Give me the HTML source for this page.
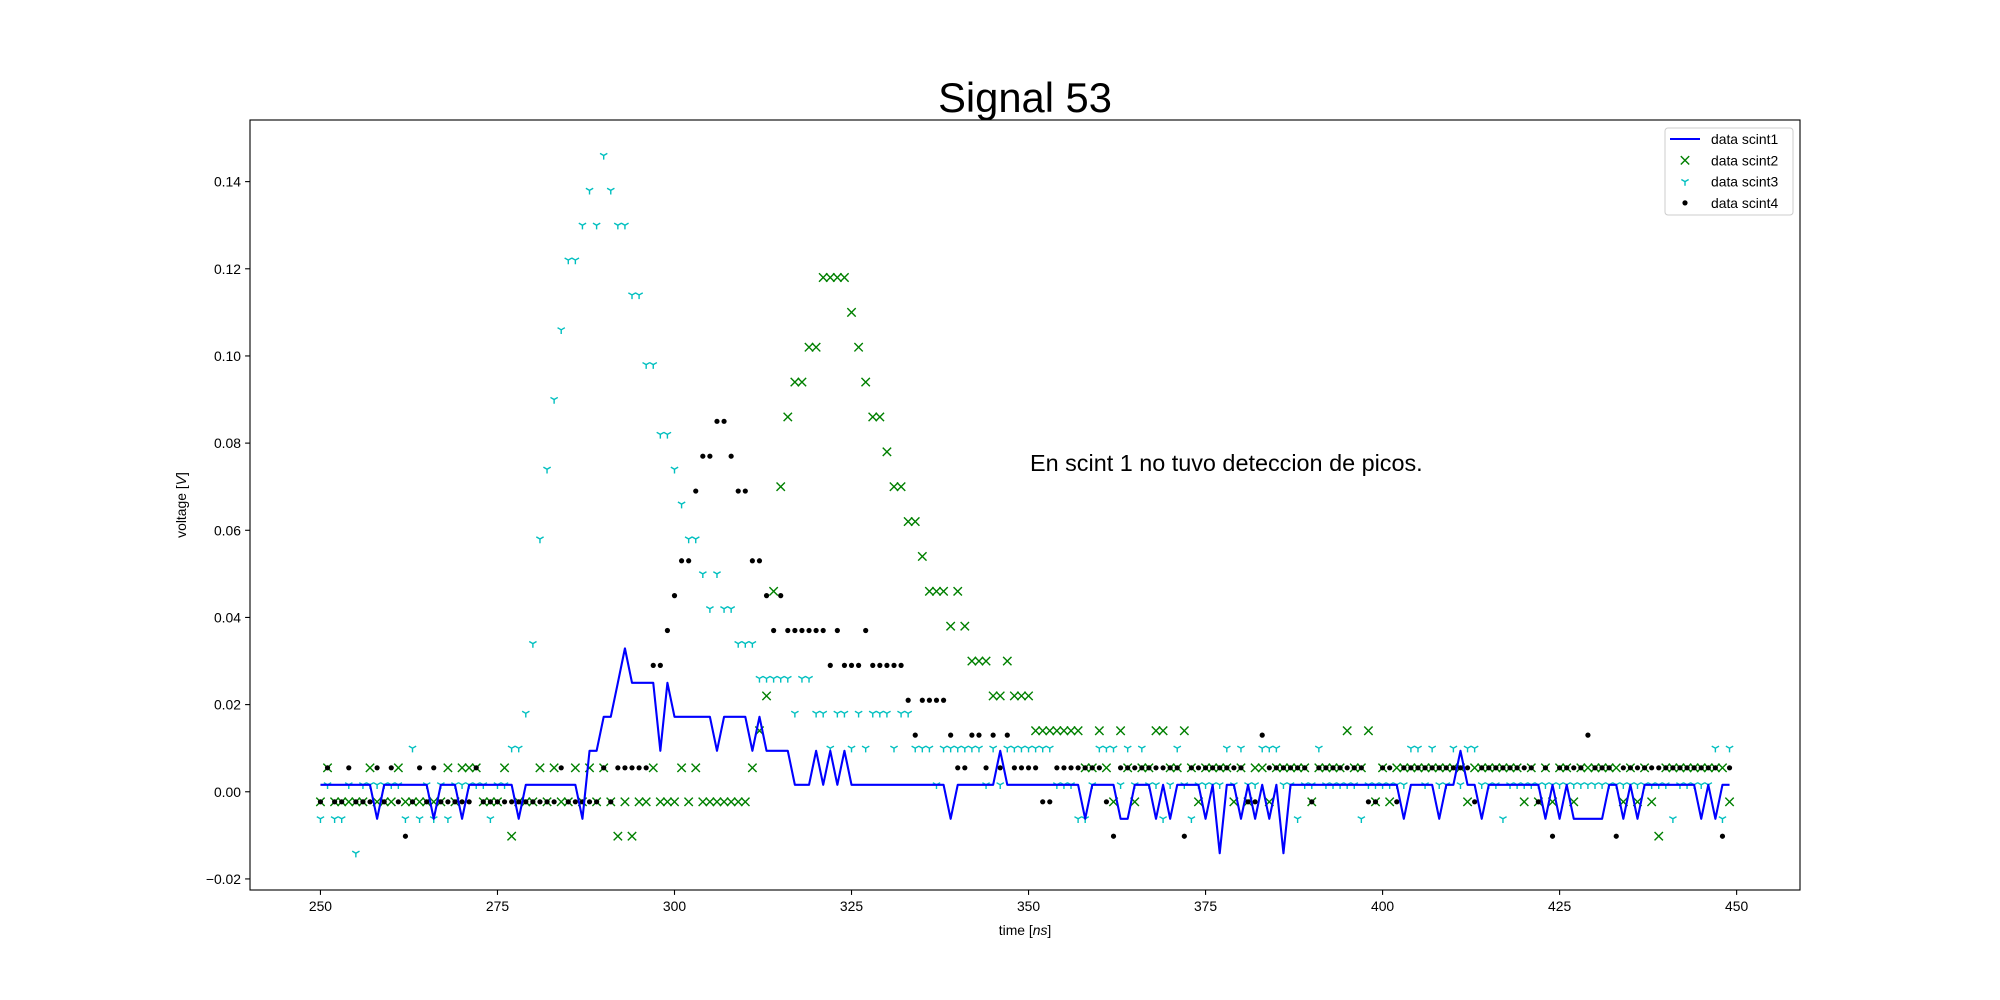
<!DOCTYPE html>
<html><head><meta charset="utf-8"><style>
html,body{margin:0;padding:0;background:#fff;}
svg{display:block;font-family:"Liberation Sans","DejaVu Sans",sans-serif;}
</style></head><body>
<svg id="chart" width="2000" height="1000" viewBox="0 0 2000 1000" xmlns="http://www.w3.org/2000/svg">
<rect x="0" y="0" width="2000" height="1000" fill="#fff"/>
<text x="1025" y="112" font-size="41.7" text-anchor="middle" fill="#000">Signal 53</text>
<g id="plot"></g>
<rect x="250" y="120" width="1550" height="770" fill="none" stroke="#000" stroke-width="1.1"/>
<g id="axes"></g>
<text x="1025" y="935" font-size="13.9" text-anchor="middle">time [<tspan font-style="italic">ns</tspan>]</text>
<text x="186" y="505" font-size="13.9" text-anchor="middle" transform="rotate(-90 186 505)">voltage [<tspan font-style="italic">V</tspan>]</text>
<text x="1030" y="471" font-size="23.4">En scint 1 no tuvo deteccion de picos.</text>
<g id="legend">
<rect x="1665" y="128" width="128" height="87" rx="3" fill="#fff" fill-opacity="0.8" stroke="#ccc" stroke-width="1"/>
</g>
</svg>
<script>
const xTicks=[250,275,300,325,350,375,400,425,450];
const yTicks=[-0.02,0,0.02,0.04,0.06,0.08,0.10,0.12,0.14];
const yTickLabels=["\u22120.02","0.00","0.02","0.04","0.06","0.08","0.10","0.12","0.14"];
const tStart=250;
const scint1=[
0.0016,0.0016,0.0016,0.0016,0.0016,0.0016,0.0016,0.0016,-0.0062,0.0016,
0.0016,0.0016,0.0016,0.0016,0.0016,0.0016,-0.0062,0.0016,0.0016,0.0016,
-0.0062,0.0016,0.0016,0.0016,0.0016,0.0016,0.0016,0.0016,-0.0062,0.0016,
0.0016,0.0016,0.0016,0.0016,0.0016,0.0016,0.0016,-0.0062,0.0094,0.0094,
0.0172,0.0172,0.025,0.0329,0.025,0.025,0.025,0.025,0.0094,0.025,
0.0172,0.0172,0.0172,0.0172,0.0172,0.0172,0.0094,0.0172,0.0172,0.0172,
0.0172,0.0094,0.0172,0.0094,0.0094,0.0094,0.0094,0.0016,0.0016,0.0016,
0.0094,0.0016,0.0094,0.0016,0.0094,0.0016,0.0016,0.0016,0.0016,0.0016,
0.0016,0.0016,0.0016,0.0016,0.0016,0.0016,0.0016,0.0016,0.0016,-0.0062,
0.0016,0.0016,0.0016,0.0016,0.0016,0.0016,0.0094,0.0016,0.0016,0.0016,
0.0016,0.0016,0.0016,0.0016,0.0016,0.0016,0.0016,0.0016,-0.0062,0.0016,
0.0016,0.0016,0.0016,-0.0062,-0.0062,0.0016,0.0016,0.0016,-0.0062,0.0016,
-0.0062,0.0016,0.0016,0.0016,0.0016,-0.0062,0.0016,-0.0141,0.0016,0.0016,
-0.0062,0.0016,-0.0062,0.0016,-0.0062,0.0016,-0.0141,0.0016,0.0016,0.0016,
0.0016,0.0016,0.0016,0.0016,0.0016,0.0016,0.0016,0.0016,0.0016,0.0016,
0.0016,0.0016,0.0016,-0.0062,0.0016,0.0016,0.0016,0.0016,-0.0062,0.0016,
0.0016,0.0094,0.0016,0.0016,-0.0062,0.0016,0.0016,0.0016,0.0016,0.0016,
0.0016,0.0016,0.0016,-0.0062,0.0016,-0.0062,0.0016,-0.0062,-0.0062,-0.0062,
-0.0062,-0.0062,0.0016,0.0016,-0.0062,0.0016,-0.0062,0.0016,0.0016,0.0016,
0.0016,0.0016,0.0016,0.0016,0.0016,-0.0062,0.0016,-0.0062,0.0016,0.0016];
const scint2=[
-0.0023,0.0055,-0.0023,-0.0023,-0.0023,-0.0023,-0.0023,0.0055,-0.0023,-0.0023,
-0.0023,0.0055,-0.0023,-0.0023,-0.0023,-0.0023,-0.0023,-0.0023,0.0055,-0.0023,
0.0055,0.0055,0.0055,-0.0023,-0.0023,-0.0023,0.0055,-0.0102,-0.0023,-0.0023,
-0.0023,0.0055,-0.0023,0.0055,-0.0023,-0.0023,0.0055,-0.0023,0.0055,-0.0023,
0.0055,-0.0023,-0.0102,-0.0023,-0.0102,-0.0023,-0.0023,0.0055,-0.0023,-0.0023,
-0.0023,0.0055,-0.0023,0.0055,-0.0023,-0.0023,-0.0023,-0.0023,-0.0023,-0.0023,
-0.0023,0.0055,0.014,0.022,0.046,0.070,0.086,0.094,0.094,0.102,
0.102,0.118,0.118,0.118,0.118,0.110,0.102,0.094,0.086,0.086,
0.078,0.070,0.070,0.062,0.062,0.054,0.046,0.046,0.046,0.038,
0.046,0.038,0.030,0.030,0.030,0.022,0.022,0.030,0.022,0.022,
0.022,0.014,0.014,0.014,0.014,0.014,0.014,0.014,0.0055,0.0055,
0.014,0.0055,-0.0023,0.014,0.0055,-0.0023,0.0055,0.0055,0.014,0.014,
0.0055,0.0055,0.014,0.0055,-0.0023,0.0055,0.0055,0.0055,0.0055,-0.0023,
0.0055,-0.0023,0.0055,0.0055,-0.0023,0.0055,0.0055,0.0055,0.0055,0.0055,
-0.0023,0.0055,0.0055,0.0055,0.0055,0.014,0.0055,0.0055,0.014,-0.0023,
0.0055,-0.0023,0.0055,0.0055,0.0055,0.0055,0.0055,0.0055,0.0055,0.0055,
0.0055,0.0055,-0.0023,0.0055,0.0055,0.0055,0.0055,0.0055,0.0055,0.0055,
-0.0023,0.0055,-0.0023,0.0055,-0.0023,0.0055,0.0055,-0.0023,0.0055,0.0055,
0.0055,0.0055,0.0055,0.0055,-0.0023,0.0055,-0.0023,0.0055,-0.0023,-0.0102,
0.0055,0.0055,0.0055,0.0055,0.0055,0.0055,0.0055,0.0055,0.0055,-0.0023];
const scint3=[
-0.0062,0.0016,-0.0062,-0.0062,0.0016,-0.0141,0.0016,0.0016,0.0016,0.0016,
0.0016,0.0016,-0.0062,0.010,-0.0062,0.0016,-0.0062,0.0016,-0.0062,0.0016,
0.0016,0.0016,0.0016,0.0016,-0.0062,0.0016,0.0016,0.010,0.010,0.018,
0.034,0.058,0.074,0.090,0.106,0.122,0.122,0.130,0.138,0.130,
0.146,0.138,0.130,0.130,0.114,0.114,0.098,0.098,0.082,0.082,
0.074,0.066,0.058,0.058,0.050,0.042,0.050,0.042,0.042,0.034,
0.034,0.034,0.026,0.026,0.026,0.026,0.026,0.018,0.026,0.026,
0.018,0.018,0.010,0.018,0.018,0.010,0.018,0.010,0.018,0.018,
0.018,0.010,0.018,0.018,0.010,0.010,0.010,0.0016,0.010,0.010,
0.010,0.010,0.010,0.010,0.0016,0.010,0.0016,0.010,0.010,0.010,
0.010,0.010,0.010,0.010,0.0016,0.0016,0.0016,-0.0062,-0.0062,0.0016,
0.010,0.010,0.010,0.0016,0.010,0.0016,0.010,0.0016,0.0016,-0.0062,
0.0016,0.010,0.0016,-0.0062,0.0016,0.0016,0.0016,0.0016,0.010,0.0016,
0.010,0.0016,0.0016,0.010,0.010,0.010,0.0016,0.0016,-0.0062,0.0016,
0.0016,0.010,0.0016,0.0016,0.0016,0.0016,0.0016,-0.0062,0.0016,0.0016,
0.0016,0.0016,0.0016,0.0016,0.010,0.010,0.0016,0.010,0.0016,0.0016,
0.010,0.0016,0.010,0.010,0.0016,0.0016,0.0016,-0.0062,0.0016,0.0016,
0.0016,0.0016,0.0016,0.0016,0.0016,0.0016,0.0016,0.0016,0.0016,0.0016,
0.0016,0.0016,0.0016,0.0016,0.0016,0.0016,0.0016,0.0016,0.0016,0.0016,
0.0016,-0.0062,0.0016,0.0016,0.0016,0.0016,0.0016,0.010,-0.0062,0.010];
const scint4=[
-0.0023,0.0055,-0.0023,-0.0023,0.0055,-0.0023,-0.0023,-0.0023,0.0055,-0.0023,
0.0055,-0.0023,-0.0102,-0.0023,0.0055,-0.0023,0.0055,-0.0023,-0.0023,-0.0023,
-0.0023,-0.0023,0.0055,-0.0023,-0.0023,-0.0023,-0.0023,-0.0023,-0.0023,-0.0023,
-0.0023,-0.0023,-0.0023,-0.0023,0.0055,-0.0023,-0.0023,-0.0023,-0.0023,-0.0023,
0.0055,-0.0023,0.0055,0.0055,0.0055,0.0055,0.0055,0.029,0.029,0.037,
0.045,0.053,0.053,0.069,0.077,0.077,0.085,0.085,0.077,0.069,
0.069,0.053,0.053,0.045,0.037,0.045,0.037,0.037,0.037,0.037,
0.037,0.037,0.029,0.037,0.029,0.029,0.029,0.037,0.029,0.029,
0.029,0.029,0.029,0.021,0.013,0.021,0.021,0.021,0.021,0.013,
0.0055,0.0055,0.013,0.013,0.0055,0.013,0.0055,0.013,0.0055,0.0055,
0.0055,0.0055,-0.0023,-0.0023,0.0055,0.0055,0.0055,0.0055,0.0055,0.0055,
0.0055,-0.0023,-0.0102,0.0055,0.0055,0.0055,0.0055,0.0055,0.0055,0.0055,
0.0055,0.0055,-0.0102,0.0055,0.0055,0.0055,0.0055,0.0055,0.0055,0.0055,
0.0055,-0.0023,-0.0023,0.013,0.0055,0.0055,0.0055,0.0055,0.0055,0.0055,
-0.0023,0.0055,0.0055,0.0055,0.0055,0.0055,0.0055,0.0055,-0.0023,-0.0023,
0.0055,0.0055,-0.0023,0.0055,0.0055,0.0055,0.0055,0.0055,0.0055,0.0055,
0.0055,0.0055,0.0055,-0.0023,0.0055,0.0055,0.0055,0.0055,0.0055,0.0055,
0.0055,0.0055,-0.0023,0.0055,-0.0102,0.0055,0.0055,0.0055,0.0055,0.013,
0.0055,0.0055,0.0055,-0.0102,0.0055,0.0055,0.0055,0.0055,0.0055,0.0055,
0.0055,0.0055,0.0055,0.0055,0.0055,0.0055,0.0055,0.0055,-0.0102,0.0055];

const NS="http://www.w3.org/2000/svg";
const X0=250,X1=1800,Y0=890,Y1=120;
const xMin=240.05,xMax=458.95,yMin=-0.02254,yMax=0.15414;
function xs(t){return X0+(t-xMin)/(xMax-xMin)*(X1-X0);}
function ys(v){return Y0-(v-yMin)/(yMax-yMin)*(Y0-Y1);}
function mk(tag,attrs,parent){const e=document.createElementNS(NS,tag);for(const k in attrs)e.setAttribute(k,attrs[k]);parent.appendChild(e);return e;}
const plot=document.getElementById('plot');
const axes=document.getElementById('axes');

xTicks.forEach(function(t){
  const g=mk('g',{},axes);
  
  
  mk('line',{x1:xs(t),x2:xs(t),y1:890,y2:894.9,stroke:'#000','stroke-width':1.1},g);
  const tx=mk('text',{x:xs(t),y:911,'font-size':13.9,'text-anchor':'middle'},g);
  tx.textContent=String(t);
});
yTicks.forEach(function(v,i){
  const g=mk('g',{},axes);
  
  
  mk('line',{x1:245.1,x2:250,y1:ys(v),y2:ys(v),stroke:'#000','stroke-width':1.1},g);
  const tx=mk('text',{x:241,y:ys(v)+5,'font-size':13.9,'text-anchor':'end'},g);
  tx.textContent=yTickLabels[i];
});

const defs=mk('defs',{},plot);
const cp=mk('clipPath',{id:'clip'},defs);
mk('rect',{x:250,y:120,width:1550,height:770},cp);
const inner=mk('g',{'clip-path':'url(#clip)'},plot);

const g2=mk('g',{stroke:'#008000','stroke-width':1.4,fill:'none'},inner);


scint2.forEach(function(v,i){
  const x=xs(tStart+i),y=ys(v),r=4.2;
  const p=mk('path',{d:'M'+(x-r)+' '+(y-r)+'L'+(x+r)+' '+(y+r)+'M'+(x-r)+' '+(y+r)+'L'+(x+r)+' '+(y-r)},g2);
  
  
});
const g3=mk('g',{stroke:'#00bfbf','stroke-width':1.4,fill:'none'},inner);


scint3.forEach(function(v,i){
  const x=xs(tStart+i),y=ys(v),r=4.2;
  const p=mk('path',{d:'M'+x+' '+y+'L'+x+' '+(y+r)+'M'+x+' '+y+'L'+(x-r*0.87)+' '+(y-r*0.5)+'M'+x+' '+y+'L'+(x+r*0.87)+' '+(y-r*0.5)},g3);
  
  
});
const g4=mk('g',{fill:'#000'},inner);


scint4.forEach(function(v,i){
  const c=mk('circle',{cx:xs(tStart+i),cy:ys(v),r:2.6},g4);
  
  
});
const pts=scint1.map(function(v,i){return xs(tStart+i).toFixed(2)+','+ys(v).toFixed(2);}).join(' ');
const line=mk('polyline',{points:pts,fill:'none',stroke:'#0000ff','stroke-width':2.1,'stroke-linejoin':'round'},inner);



const lg=document.getElementById('legend');
const names=['data scint1','data scint2','data scint3','data scint4'];
names.forEach(function(n,i){
  const y=139+i*21.3;
  const g=mk('g',{},lg);
  
  
  const cx=1685;
  if(i===0){mk('line',{x1:1670,x2:1700,y1:y,y2:y,stroke:'#0000ff','stroke-width':2.1},g);}
  else if(i===1){const r=4.2;mk('path',{d:'M'+(cx-r)+' '+(y-r)+'L'+(cx+r)+' '+(y+r)+'M'+(cx-r)+' '+(y+r)+'L'+(cx+r)+' '+(y-r),stroke:'#008000','stroke-width':1.4},g);}
  else if(i===2){const r=4.2;mk('path',{d:'M'+cx+' '+y+'L'+cx+' '+(y+r)+'M'+cx+' '+y+'L'+(cx-r*0.87)+' '+(y-r*0.5)+'M'+cx+' '+y+'L'+(cx+r*0.87)+' '+(y-r*0.5),stroke:'#00bfbf','stroke-width':1.4,fill:'none'},g);}
  else {mk('circle',{cx:cx,cy:y,r:2.6,fill:'#000'},g);}
  const t=mk('text',{x:1711,y:y+5,'font-size':13.9},g);
  t.textContent=n;
});
</script>
</body></html>
